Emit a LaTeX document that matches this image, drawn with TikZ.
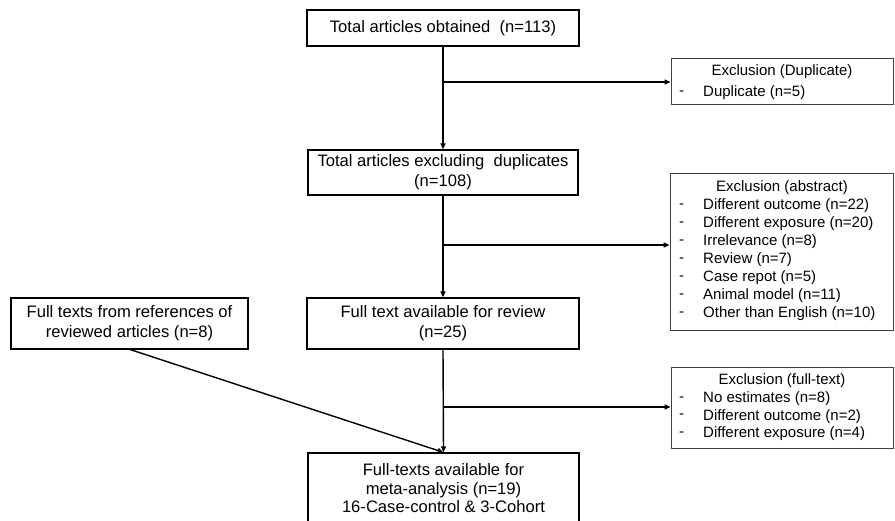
\documentclass[tikz,border=0pt]{standalone}
\usepackage{fontspec}
\setmainfont{Liberation Sans}
\usetikzlibrary{arrows.meta}
\begin{document}
\begin{tikzpicture}[x=1pt,y=-1pt,
  mainbox/.style={draw=black,line width=1.3pt,rectangle,align=center,inner sep=0pt,
    font=\fontsize{16.6}{20}\selectfont},
  exbox/.style={draw=black!75,line width=0.9pt,rectangle,inner sep=0pt},
  extitle/.style={font=\fontsize{15}{18}\selectfont,inner sep=0pt,anchor=center},
  exitem/.style={font=\fontsize{15}{18}\selectfont,inner sep=0pt,anchor=west},
  conn/.style={line width=1.4pt,-{Triangle[length=6pt,width=5pt]}},
  plain/.style={line width=1.4pt}]
\useasboundingbox (0,0) rectangle (895,521);
\clip (0,0) rectangle (895,521);
% main boxes
\node[mainbox,minimum width=272pt,minimum height=36pt] (b1) at (443,28) {Total articles obtained\ \ (n=113)};
\node[mainbox,minimum width=270pt,minimum height=45pt] (b2) at (443,172.5) {Total articles excluding\ \ duplicates\\(n=108)};
\node[mainbox,minimum width=272pt,minimum height=51pt] (b3) at (443,323.5) {Full text available for review\\(n=25)};
\node[mainbox,minimum width=237pt,minimum height=51pt] (ref) at (129.5,323.5) {Full texts from references of\\reviewed articles (n=8)};
\node[mainbox,minimum width=271pt,minimum height=72pt] (fin) at (443.5,489) {};
\node[font=\fontsize{16.6}{18.5}\selectfont,align=center,inner sep=0pt] (fintxt) at (443.5,488.5) {Full-texts available for\\meta-analysis (n=19)\\16-Case-control \& 3-Cohort};
% exclusion boxes
\node[exbox,minimum width=222pt,minimum height=46pt] (dup) at (782,81) {};
\node[extitle] (dupt) at (782,72) {Exclusion (Duplicate)};
\node[exitem] (dupd1) at (679,93) {-};
\node[exitem] (dupi1) at (703,93) {Duplicate (n=5)};

\node[exbox,minimum width=223pt,minimum height=157pt] (abs) at (781.5,251.5) {};
\node[extitle] (abst) at (782,187.5) {Exclusion (abstract)};
\foreach \i/\t [count=\k] in {206/Different outcome (n=22),224/Different exposure (n=20),242/Irrelevance (n=8),260/Review (n=7),278/Case repot (n=5),296/Animal model (n=11),314/Other than English (n=10)}{
  \node[exitem] (absd\k) at (679,\i) {-};
  \node[exitem] (absi\k) at (703,\i) {\t};
}

\node[exbox,minimum width=222pt,minimum height=81pt] (ft) at (782,407.5) {};
\node[extitle] (ftt) at (782,381) {Exclusion (full-text)};
\foreach \i/\t [count=\k] in {399/No estimates (n=8),416.5/Different outcome (n=2),434/Different exposure (n=4)}{
  \node[exitem] (ftd\k) at (679,\i) {-};
  \node[exitem] (fti\k) at (703,\i) {\t};
}
% connectors
\coordinate (j1) at (443,82);
\coordinate (j2) at (443,245);
\coordinate (j3) at (443,407);
\coordinate (refout) at (130,349.5);
\draw[conn] (b1.south) -- (b2.north);
\draw[conn] (j1) -- (j1 -| dup.west);
\draw[conn] (b2.south) -- (b3.north);
\draw[conn] (j2) -- (j2 -| abs.west);
\draw[conn] (b3.south) -- (fin.north);
\draw[conn] (j3) -- (j3 -| ft.west);
\draw[conn] (refout) -- (fin.north);
\end{tikzpicture}
\end{document}
